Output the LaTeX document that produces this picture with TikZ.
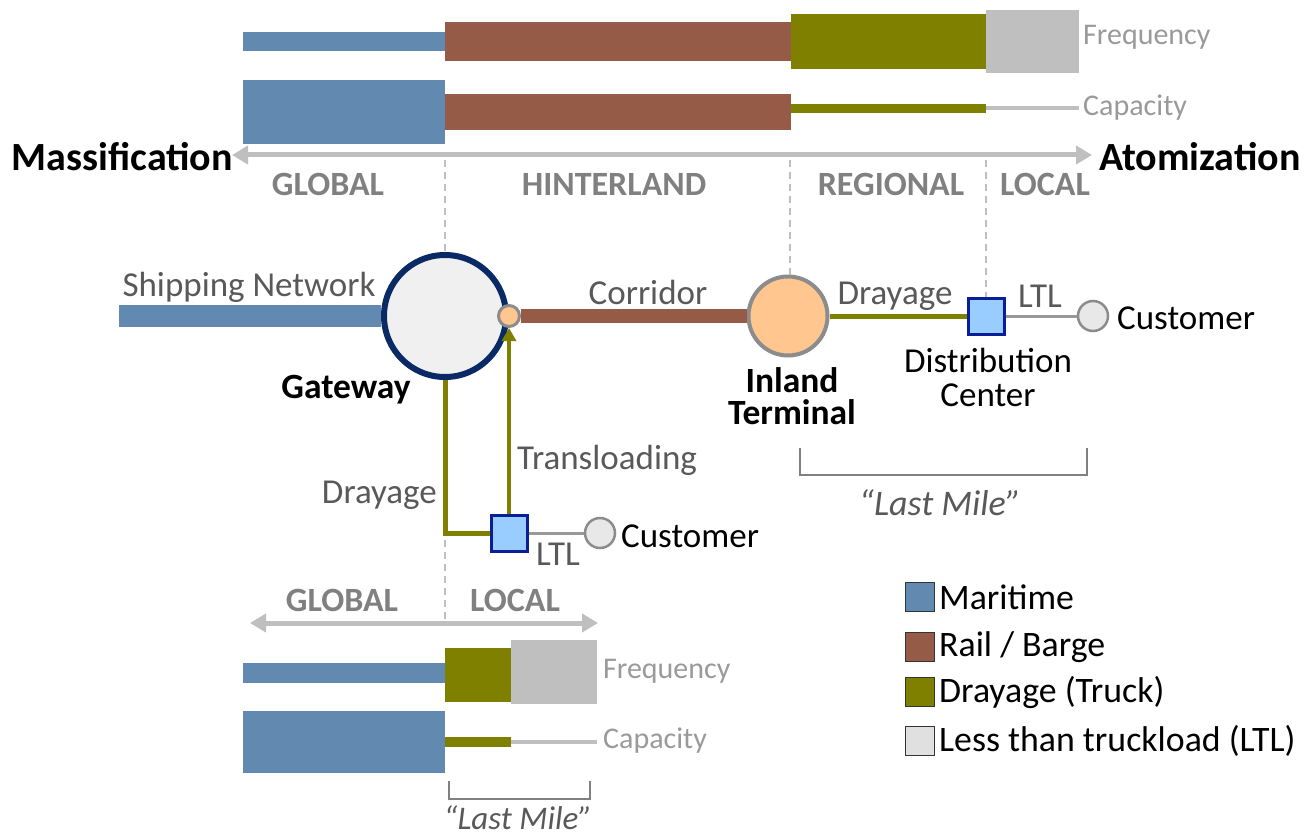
\documentclass[tikz,border=0pt]{standalone}
\usepackage{fontspec}
\setmainfont{Carlito}
\usetikzlibrary{arrows.meta}
\definecolor{mari}{HTML}{6289B0}
\definecolor{rail}{HTML}{955B47}
\definecolor{dray}{HTML}{808000}
\definecolor{ltlc}{HTML}{BFBFBF}
\definecolor{navy}{HTML}{0A2A66}
\definecolor{peach}{HTML}{FFC68F}
\definecolor{dcfill}{HTML}{99CCFF}
\definecolor{dcline}{HTML}{0A1E99}
\definecolor{ringgray}{HTML}{8C8C8C}
\definecolor{txtgray}{HTML}{595959}
\definecolor{lightgray}{HTML}{9A9A9A}
\definecolor{regiongray}{HTML}{808080}
\tikzset{
  lbl/.style={font=\fontsize{35}{38}\selectfont, text=txtgray, inner sep=0pt},
  small/.style={font=\fontsize{30}{34}\selectfont, text=lightgray, inner sep=0pt},
  blk/.style={font=\fontsize{35}{34}\selectfont, text=black, inner sep=0pt, align=center},
  blkb/.style={font=\bfseries\fontsize{35.5}{32}\selectfont, text=black, inner sep=0pt, align=center},
  region/.style={font=\bfseries\fontsize{34}{36}\selectfont, text=regiongray, inner sep=0pt},
  big/.style={font=\bfseries\fontsize{40}{44}\selectfont, text=black, inner sep=0pt},
  lastmile/.style={font=\itshape\fontsize{36}{38}\selectfont, text=txtgray, inner sep=0pt},
  legtxt/.style={font=\fontsize{35.8}{38}\selectfont, text=black, inner sep=0pt, anchor=west},
  legbox/.style={draw=black!80, line width=1.5pt, minimum size=29pt, inner sep=0pt},
  divider/.style={ltlc, line width=2pt, dash pattern=on 7pt off 5pt},
  axisline/.style={ltlc, line width=5pt, {Triangle[length=16pt,width=18pt]}-{Triangle[length=16pt,width=18pt]}},
  bracket/.style={draw=regiongray, line width=2pt},
  hub/.style={circle, inner sep=0pt},
  dcbox/.style={draw=dcline, fill=dcfill, line width=3pt, minimum size=36pt, inner sep=0pt},
  cust/.style={circle, draw=ringgray, fill=black!9, line width=2.5pt, minimum size=30pt, inner sep=0pt},
}
\begin{document}
\begin{tikzpicture}[x=1pt,y=-1pt]
\useasboundingbox (0,0) rectangle (1309,840);
\fill[white] (0,0) rectangle (1309,840);

% ---- top bars: frequency ----
\fill[mari] (243,32) rectangle (445,51);
\fill[rail] (445,22) rectangle (791,61);
\fill[dray] (791,14) rectangle (986,69);
\fill[ltlc] (986,10) rectangle (1079,73);
% ---- top bars: capacity ----
\fill[mari] (243,80) rectangle (445,144);
\fill[rail] (445,94) rectangle (791,130);
\fill[dray] (791,104) rectangle (986,113);
\fill[ltlc] (986,106) rectangle (1079,110);
\node[small, anchor=west] (freqT) at (1083,37) {Frequency};
\node[small, anchor=west] (capT) at (1083,108) {Capacity};

% ---- axis ----
\coordinate (axL) at (232,155);
\coordinate (axR) at (1092,155);
\draw[axisline] (axL) -- (axR);
\node[big, anchor=east] (mass) at (233,157) {Massification};
\node[big, anchor=west] (atom) at (1099,157) {Atomization};
\node[region] (rGlobal) at (328,184) {GLOBAL};
\node[region] (rHinter) at (614,184) {HINTERLAND};
\node[region] (rRegion) at (891,184) {REGIONAL};
\node[region] (rLocal) at (1045,184) {LOCAL};

% ---- nodes ----
\node[hub, draw=navy, fill=black!6, line width=6pt, minimum size=122pt] (gw) at (445,316) {};
\node[hub, draw=ringgray, fill=peach, line width=3pt, minimum size=21pt] (tl) at (509,316) {};
\node[hub, draw=ringgray, fill=peach, line width=4pt, minimum size=79pt] (it) at (788,316) {};
\node[dcbox] (dc) at (986,316) {};
\node[cust] (c1) at (1093,316) {};
\node[dcbox] (dc2) at (509,533) {};
\node[cust] (c2) at (600,533) {};
\coordinate (sn) at (119,316);

% ---- dividers ----
\draw[divider] (445,160) -- (gw.north);
\draw[divider] (790,160) -- (790,276);
\draw[divider] (986,160) -- (dc.north);
\coordinate (dv) at (445,540);
\coordinate (dvb) at (445,626);
\draw[divider] (dv) -- (dvb);

% ---- connectors ----
\draw[mari, line width=22pt] (sn) -- (gw.west);
\draw[rail, line width=14pt] (tl) -- (it);
\draw[dray, line width=5pt] (it) -- (dc);
\draw[ltlc!80!black, line width=3pt] (dc) -- (c1);
\draw[dray, line width=5pt, line join=miter] (gw.south) -- (gw.south |- dc2) -- (dc2.west);
\draw[dray, line width=4pt, -{Triangle[length=13pt,width=14pt]}] (dc2.north) -- (tl.south);
\draw[ltlc!80!black, line width=3pt] (dc2) -- (c2);

% ---- labels ----
\node[lbl] (lShip) at (249,287) {Shipping Network};
\node[lbl] (lCorr) at (648,292) {Corridor};
\node[lbl] (lDray1) at (895,296) {Drayage};
\node[lbl] (lLTL1) at (1040,296) {LTL};
\node[blk, anchor=west] (lCust1) at (1117,318) {Customer};
\node[blkb] (lGw) at (346,390) {Gateway};
\node[blkb] (lIt) at (792,396) {Inland\\Terminal};
\node[blk] (lDc) at (988,377) {Distribution\\Center};
\node[lbl, anchor=west] (lTrans) at (517,460) {Transloading};
\node[lbl, anchor=east] (lDray2) at (437,495) {Drayage};
\node[lbl] (lLTL2) at (558,554) {LTL};
\node[blk, anchor=west] (lCust2) at (621,536) {Customer};

% ---- upper last mile bracket ----
\draw[bracket] (800,448) -- (800,475) -- (1087,475) -- (1087,448);
\node[lastmile] (lm1) at (940,503) {“Last Mile”};

% ---- bottom panel ----
\coordinate (bL) at (250,623);
\coordinate (bR) at (598,623);
\draw[axisline] (bL) -- (bR);
\node[region] (bGlobal) at (342,600) {GLOBAL};
\node[region] (bLocal) at (515,600) {LOCAL};
\fill[mari] (243,663) rectangle (445,683);
\fill[dray] (445,648) rectangle (511,702);
\fill[ltlc] (511,640) rectangle (597,704);
\fill[mari] (243,711) rectangle (445,773);
\fill[dray] (445,737) rectangle (511,747);
\fill[ltlc] (511,740) rectangle (597,744);
\node[small, anchor=west] (freqB) at (603,671) {Frequency};
\node[small, anchor=west] (capB) at (603,741) {Capacity};
\draw[bracket] (449,781) -- (449,799) -- (590,799) -- (590,781);
\node[lastmile, font=\itshape\fontsize{33}{36}\selectfont] (lm2) at (518,818) {“Last Mile”};

% ---- legend ----
\node[legbox, fill=mari] (k1) at (920,597) {};
\node[legbox, fill=rail] (k2) at (920,647) {};
\node[legbox, fill=dray] (k3) at (920,692) {};
\node[legbox, fill=black!12] (k4) at (920,741) {};
\node[legtxt] (t1) at (939,597) {Maritime};
\node[legtxt] (t2) at (939,647) {Rail / Barge};
\node[legtxt] (t3) at (939,692) {Drayage (Truck)};
\node[legtxt] (t4) at (939,741) {Less than truckload (LTL)};
\end{tikzpicture}
\end{document}
